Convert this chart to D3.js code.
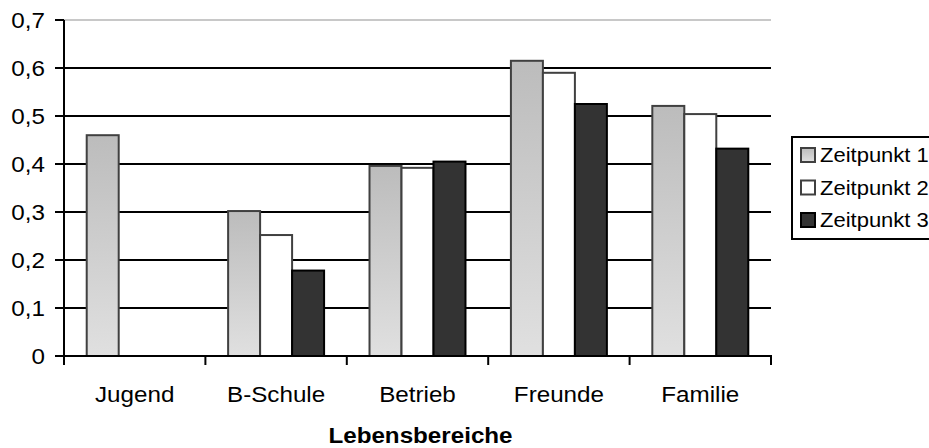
<!DOCTYPE html>
<html>
<head>
<meta charset="utf-8">
<script src="https://cdn.jsdelivr.net/npm/d3@7"></script>
<style>
  html, body { margin: 0; padding: 0; background: #fff; }
  svg { display: block; font-family: "Liberation Sans", Arial, sans-serif; }
</style>
</head>
<body>
<svg id="chart" width="929" height="448"></svg>
<script>
// Lebensbereiche and the three measurement points
const categories = ["Jugend", "B-Schule", "Betrieb", "Freunde", "Familie"];
const seriesNames = ["Zeitpunkt 1", "Zeitpunkt 2", "Zeitpunkt 3"];
const zeitpunkt1 = [0.460, 0.302, 0.396, 0.615, 0.521];
const zeitpunkt2 = [null, 0.252, 0.392, 0.590, 0.504];
const zeitpunkt3 = [null, 0.178, 0.405, 0.525, 0.432];
const yTicks = [0, 0.1, 0.2, 0.3, 0.4, 0.5, 0.6, 0.7];
const xTitle = "Lebensbereiche";

const seriesValues = [zeitpunkt1, zeitpunkt2, zeitpunkt3];

const svg = d3.select("#chart");
const plot = { left: 64, right: 771, top: 20, bottom: 356 };
const stretch = 1.1; // type is set slightly wide

const de = d3.formatLocale({ decimal: ",", thousands: ".", grouping: [3], currency: ["", " €"] });
const fmt = v => v === 0 ? "0" : de.format(".1f")(v);

const x0 = d3.scaleBand().domain(categories).range([plot.left, plot.right]).padding(0);
const x1 = d3.scaleBand().domain(seriesNames).range([0, x0.bandwidth()])
  .paddingInner(0).paddingOuter(0.71);
const y = d3.scaleLinear().domain([0, 0.7]).range([plot.bottom, plot.top]);

// gradient fill for the first series
const defs = svg.append("defs");
const grad = defs.append("linearGradient").attr("id", "grad1")
  .attr("x1", 0).attr("y1", 0).attr("x2", 0).attr("y2", 1);
grad.append("stop").attr("offset", "0%").attr("stop-color", "#bcbcbc");
grad.append("stop").attr("offset", "100%").attr("stop-color", "#e0e0e0");

const fills = ["url(#grad1)", "#ffffff", "#333333"];
const strokes = ["#404040", "#404040", "#000000"];

// horizontal gridlines
svg.append("g").selectAll("line")
  .data(yTicks.filter(t => t > 0))
  .join("line")
  .attr("x1", plot.left).attr("x2", plot.right)
  .attr("y1", d => y(d)).attr("y2", d => y(d))
  .attr("stroke", d => d === 0.7 ? "#c8c8c8" : "#000")
  .attr("stroke-width", 2);

// bars
const rows = [];
categories.forEach((c, i) => {
  seriesNames.forEach((s, j) => {
    const v = seriesValues[j][i];
    if (v != null) rows.push({ c, s, j, v });
  });
});
svg.append("g").selectAll("rect")
  .data(rows)
  .join("rect")
  .attr("x", d => x0(d.c) + x1(d.s))
  .attr("y", d => y(d.v))
  .attr("width", x1.bandwidth())
  .attr("height", d => y(0) - y(d.v))
  .attr("fill", d => fills[d.j])
  .attr("stroke", d => strokes[d.j])
  .attr("stroke-width", 2);

// helper for horizontally widened text
function wideText(g, x, yy, str, opts) {
  return g.append("text")
    .attr("transform", `translate(${x},${yy}) scale(${stretch},1)`)
    .attr("text-anchor", opts.anchor || "start")
    .attr("font-size", opts.size)
    .attr("font-weight", opts.weight || "normal")
    .attr("dy", opts.dy || 0)
    .attr("fill", "#000")
    .text(str);
}

// y axis
const yAxis = svg.append("g");
yAxis.append("line")
  .attr("x1", plot.left).attr("x2", plot.left)
  .attr("y1", plot.top).attr("y2", plot.bottom)
  .attr("stroke", "#000").attr("stroke-width", 2);
yTicks.forEach(t => {
  yAxis.append("line")
    .attr("x1", plot.left - 9).attr("x2", plot.left)
    .attr("y1", y(t)).attr("y2", y(t))
    .attr("stroke", "#000").attr("stroke-width", 2);
  wideText(yAxis, 45, y(t), fmt(t), { anchor: "end", size: 22, dy: "0.36em" });
});

// x axis
const xAxis = svg.append("g");
xAxis.append("line")
  .attr("x1", plot.left - 9).attr("x2", plot.right + 1)
  .attr("y1", plot.bottom).attr("y2", plot.bottom)
  .attr("stroke", "#000").attr("stroke-width", 2);
const boundaries = categories.map(c => x0(c)).concat([x0(categories[categories.length - 1]) + x0.bandwidth()]);
boundaries.forEach(bx => {
  xAxis.append("line")
    .attr("x1", bx).attr("x2", bx)
    .attr("y1", plot.bottom).attr("y2", plot.bottom + 9)
    .attr("stroke", "#000").attr("stroke-width", 2);
});
categories.forEach(c => {
  wideText(xAxis, x0(c) + x0.bandwidth() / 2, 402, c, { anchor: "middle", size: 22 });
});
wideText(svg, (plot.left + plot.right) / 2 + 3, 443, xTitle, { anchor: "middle", size: 22, weight: "bold" });

// legend
const legend = svg.append("g");
legend.append("rect")
  .attr("x", 792).attr("y", 137).attr("width", 160).attr("height", 102)
  .attr("fill", "#fff").attr("stroke", "#000").attr("stroke-width", 2);
seriesNames.forEach((s, j) => {
  const cy = 155 + j * 32.5;
  legend.append("rect")
    .attr("x", 801).attr("y", cy - 7).attr("width", 14).attr("height", 14)
    .attr("fill", fills[j]).attr("stroke", strokes[j]).attr("stroke-width", 2);
  wideText(legend, 820, cy, s, { anchor: "start", size: 20, dy: "0.36em" });
});
</script>
</body>
</html>
